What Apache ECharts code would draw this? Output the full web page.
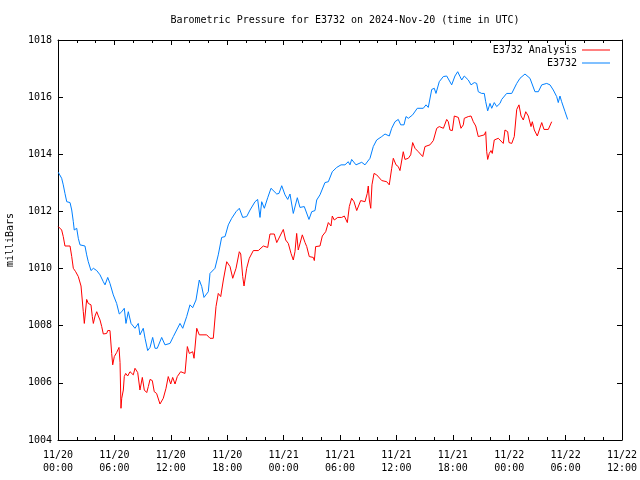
<!DOCTYPE html>
<html>
<head>
<meta charset="utf-8">
<script src="https://cdn.jsdelivr.net/npm/echarts@6/dist/echarts.min.js"></script>
<style>html,body{margin:0;padding:0;background:#fff}#c{width:640px;height:480px}</style>
</head>
<body>
<div id="c"></div>
<script>
// Hours since 2024-11-20 00:00 UTC
const tickDates = ['11/20','11/20','11/20','11/20','11/21','11/21','11/21','11/21','11/22','11/22','11/22'];
const tickTimes = ['00:00','06:00','12:00','18:00','00:00','06:00','12:00','18:00','00:00','06:00','12:00'];
const yTicks = [1004, 1006, 1008, 1010, 1012, 1014, 1016, 1018];

const analysisHours = [0.03,0.21,0.39,0.56,0.74,1.28,1.46,1.63,1.88,2.16,2.45,2.69,2.80,3.05,3.22,3.51,3.65,3.76,3.94,4.12,4.29,4.47,4.65,4.82,5.18,5.29,5.53,5.71,5.82,5.99,6.24,6.49,6.60,6.70,6.78,6.95,7.05,7.20,7.41,7.66,8.01,8.19,8.48,8.72,8.97,9.18,9.44,9.61,9.79,10.03,10.24,10.49,10.85,11.20,11.49,11.73,11.99,12.20,12.45,12.69,13.05,13.51,13.76,13.97,14.33,14.47,14.76,15.03,15.82,16.17,16.52,16.81,17.05,17.31,17.59,17.95,18.30,18.59,18.94,19.29,19.44,19.65,19.79,20.07,20.35,20.53,20.78,21.31,21.49,21.84,22.31,22.55,23.01,23.27,23.62,23.97,24.22,24.50,24.79,25.03,25.21,25.39,25.56,25.74,25.99,26.28,26.46,26.73,27.16,27.27,27.41,27.87,28.12,28.48,28.76,29.04,29.18,29.39,29.76,30.18,30.46,30.78,30.99,31.24,31.49,31.78,31.95,32.20,32.41,32.66,32.90,33.01,33.12,33.27,33.40,33.62,33.90,34.44,34.97,35.24,35.50,35.67,35.96,36.20,36.38,36.73,36.91,37.27,37.52,37.73,37.98,38.33,38.80,39.04,39.57,39.93,40.29,40.56,41.00,41.35,41.52,41.70,41.95,42.16,42.59,42.87,43.12,43.22,43.65,43.94,44.18,44.44,44.71,44.89,45.35,45.50,45.61,45.71,45.88,46.06,46.20,46.41,46.84,47.02,47.37,47.55,47.84,47.98,48.27,48.54,48.80,49.04,49.26,49.50,49.76,50.03,50.32,50.46,50.67,50.99,51.20,51.46,51.70,52.16,52.52];
const analysisValues = [1011.47,1011.49,1011.35,1011.12,1010.79,1010.79,1010.42,1010.01,1009.89,1009.72,1009.39,1008.49,1008.08,1008.92,1008.78,1008.73,1008.32,1008.08,1008.34,1008.49,1008.34,1008.20,1007.97,1007.71,1007.73,1007.83,1007.83,1007.03,1006.63,1006.92,1007.06,1007.24,1006.71,1005.11,1005.46,1005.75,1006.22,1006.33,1006.24,1006.39,1006.28,1006.51,1006.36,1005.75,1006.19,1005.75,1005.66,1005.87,1006.12,1006.08,1005.69,1005.63,1005.26,1005.46,1005.81,1006.22,1005.96,1006.19,1005.96,1006.22,1006.39,1006.33,1007.27,1007.03,1007.09,1006.86,1007.91,1007.68,1007.68,1007.56,1007.56,1008.67,1009.13,1009.02,1009.60,1010.24,1010.07,1009.66,1010.01,1010.59,1010.51,1009.72,1009.39,1010.01,1010.36,1010.38,1010.63,1010.63,1010.59,1010.79,1010.74,1011.21,1011.21,1010.91,1011.14,1011.37,1011.00,1010.88,1010.53,1010.30,1010.59,1011.23,1010.65,1010.67,1011.18,1010.91,1010.77,1010.42,1010.39,1010.28,1010.77,1010.79,1011.14,1011.29,1011.61,1011.49,1011.84,1011.70,1011.79,1011.79,1011.84,1011.61,1012.17,1012.46,1012.34,1012.03,1011.99,1012.38,1012.42,1012.34,1012.63,1012.89,1012.40,1012.11,1012.93,1013.33,1013.28,1013.08,1013.04,1012.93,1013.51,1013.86,1013.63,1013.57,1013.43,1014.09,1013.82,1013.86,1013.98,1014.41,1014.21,1014.09,1013.92,1014.27,1014.33,1014.48,1014.91,1014.97,1014.91,1015.22,1015.14,1014.85,1014.83,1015.34,1015.29,1014.91,1015.03,1015.26,1015.32,1015.34,1015.14,1014.99,1014.62,1014.68,1014.68,1014.79,1014.09,1013.82,1014.03,1014.13,1014.03,1014.50,1014.56,1014.50,1014.38,1014.85,1014.79,1014.41,1014.38,1014.62,1015.57,1015.73,1015.34,1015.20,1015.49,1015.34,1014.97,1015.14,1014.85,1014.64,1014.64,1015.11,1014.87,1014.87,1015.14];

const stationHours = [0.03,0.39,0.56,0.74,0.93,1.28,1.46,1.63,1.73,1.99,2.16,2.34,2.87,3.05,3.22,3.51,3.76,4.12,4.47,4.82,5.00,5.29,5.53,5.88,6.24,6.52,6.78,7.05,7.23,7.48,7.77,8.19,8.54,8.72,9.07,9.26,9.54,9.79,10.07,10.32,10.56,11.03,11.38,11.91,12.27,12.98,13.27,13.69,14.04,14.33,14.68,15.03,15.29,15.53,15.99,16.17,16.70,17.05,17.41,17.77,18.12,18.48,18.94,19.29,19.65,20.07,20.43,20.96,21.24,21.49,21.67,21.95,22.31,22.66,23.27,23.51,23.80,24.15,24.44,24.68,25.03,25.46,25.74,26.20,26.70,26.99,27.34,27.52,27.87,28.40,28.76,29.18,29.65,30.11,30.53,30.88,31.06,31.24,31.70,32.31,32.66,33.19,33.54,33.90,34.44,34.79,35.24,35.50,35.85,36.20,36.46,36.81,37.02,37.27,37.73,38.22,38.86,39.15,39.39,39.76,40.03,40.21,40.56,40.99,41.35,41.88,42.23,42.52,42.77,42.95,43.22,43.65,43.94,44.29,44.54,44.71,45.07,45.35,45.50,45.71,45.96,46.14,46.41,46.67,47.02,47.20,47.73,48.27,48.80,49.15,49.68,50.21,50.74,51.10,51.46,51.99,52.34,52.69,53.05,53.22,53.40,53.58,53.94,54.22];
const stationValues = [1013.37,1013.16,1012.93,1012.63,1012.34,1012.31,1012.05,1011.64,1011.35,1011.41,1011.06,1010.83,1010.79,1010.48,1010.24,1009.93,1010.01,1009.93,1009.78,1009.54,1009.43,1009.69,1009.48,1009.08,1008.78,1008.41,1008.49,1008.61,1008.08,1008.49,1008.08,1007.91,1008.08,1007.68,1007.91,1007.56,1007.13,1007.24,1007.59,1007.21,1007.21,1007.59,1007.33,1007.38,1007.62,1008.08,1007.91,1008.32,1008.73,1008.63,1008.90,1009.60,1009.37,1008.99,1009.19,1009.83,1010.01,1010.48,1011.09,1011.12,1011.53,1011.76,1011.99,1012.11,1011.79,1011.82,1012.05,1012.34,1012.42,1011.79,1012.34,1012.11,1012.48,1012.81,1012.61,1012.63,1012.90,1012.58,1012.42,1012.61,1011.93,1012.48,1012.14,1012.17,1011.72,1011.99,1012.03,1012.40,1012.58,1013.01,1013.04,1013.39,1013.54,1013.63,1013.63,1013.74,1013.63,1013.82,1013.63,1013.72,1013.63,1013.86,1014.27,1014.50,1014.62,1014.71,1014.64,1014.91,1015.14,1015.22,1015.03,1015.03,1015.32,1015.26,1015.38,1015.61,1015.61,1015.73,1015.64,1016.27,1016.31,1016.13,1016.54,1016.72,1016.74,1016.43,1016.74,1016.89,1016.72,1016.60,1016.74,1016.60,1016.43,1016.51,1016.48,1016.19,1016.13,1016.13,1015.84,1015.52,1015.78,1015.61,1015.81,1015.67,1015.78,1015.92,1016.13,1016.13,1016.48,1016.66,1016.81,1016.66,1016.19,1016.19,1016.43,1016.48,1016.43,1016.25,1016.02,1015.81,1016.04,1015.84,1015.49,1015.22];

const FONT = 'DejaVu Sans Mono';
const pair = (xs, ys) => xs.map((x, i) => [x, ys[i]]);

const chart = echarts.init(document.getElementById('c'), null, {renderer: 'canvas'});
const xCommon = {
  type: 'value', min: 0, max: 60, interval: 6,
  axisLine: {show: true, onZero: false, lineStyle: {color: '#000', width: 1}},
  axisTick: {show: true, inside: true, length: 5, lineStyle: {color: '#000'}},
  minorTick: {show: true, splitNumber: 3, length: 3, lineStyle: {color: '#000'}},
  splitLine: {show: false}
};
const yCommon = {
  type: 'value', min: yTicks[0], max: yTicks[yTicks.length - 1], interval: 2,
  axisLine: {show: true, onZero: false, lineStyle: {color: '#000', width: 1}},
  axisTick: {show: true, inside: true, length: 5, lineStyle: {color: '#000'}},
  splitLine: {show: false}
};
const legendText = {fontFamily: FONT, fontSize: 10, color: '#000'};
chart.setOption({
  animation: false,
  backgroundColor: '#fff',
  title: {
    text: 'Barometric Pressure for E3732 on 2024-Nov-20 (time in UTC)',
    left: 340, top: 10, textAlign: 'center',
    textStyle: {fontFamily: FONT, fontSize: 10, fontWeight: 'normal', color: '#000'}
  },
  grid: {left: 58, right: 18, top: 40, bottom: 40, containLabel: false, outerBoundsMode: 'none'},
  legend: [
    {data: [{name: 'E3732 Analysis', icon: 'rect'}], right: 30, top: 45, padding: 0, align: 'right',
     itemWidth: 28, itemHeight: 1, textStyle: legendText},
    {data: [{name: 'E3732', icon: 'rect'}], right: 30, top: 58, padding: 0, align: 'right',
     itemWidth: 28, itemHeight: 1, textStyle: legendText}
  ],
  xAxis: [
    Object.assign({}, xCommon, {
      position: 'bottom',
      axisLabel: {
        show: true, margin: 9, color: '#000', fontFamily: FONT, fontSize: 10, lineHeight: 13,
        formatter: v => { const i = Math.round(v / 6); return tickDates[i] + '\n' + tickTimes[i]; }
      }
    }),
    Object.assign({}, xCommon, {position: 'top', axisLabel: {show: false}})
  ],
  yAxis: [
    Object.assign({}, yCommon, {
      position: 'left',
      name: 'milliBars', nameLocation: 'middle', nameGap: 43, nameRotate: 90,
      nameTextStyle: {fontFamily: FONT, fontSize: 10, color: '#000'},
      axisLabel: {show: true, margin: 6, color: '#000', fontFamily: FONT, fontSize: 10,
                  formatter: v => String(v)}
    }),
    Object.assign({}, yCommon, {position: 'right', axisLabel: {show: false}})
  ],
  series: [
    {name: 'E3732 Analysis', type: 'line', data: pair(analysisHours, analysisValues),
     symbol: 'none', showSymbol: false, color: '#ff0000', lineStyle: {color: '#ff0000', width: 1}},
    {name: 'E3732', type: 'line', data: pair(stationHours, stationValues),
     symbol: 'none', showSymbol: false, color: '#0080ff', lineStyle: {color: '#0080ff', width: 1}}
  ]
});
</script>
</body>
</html>
